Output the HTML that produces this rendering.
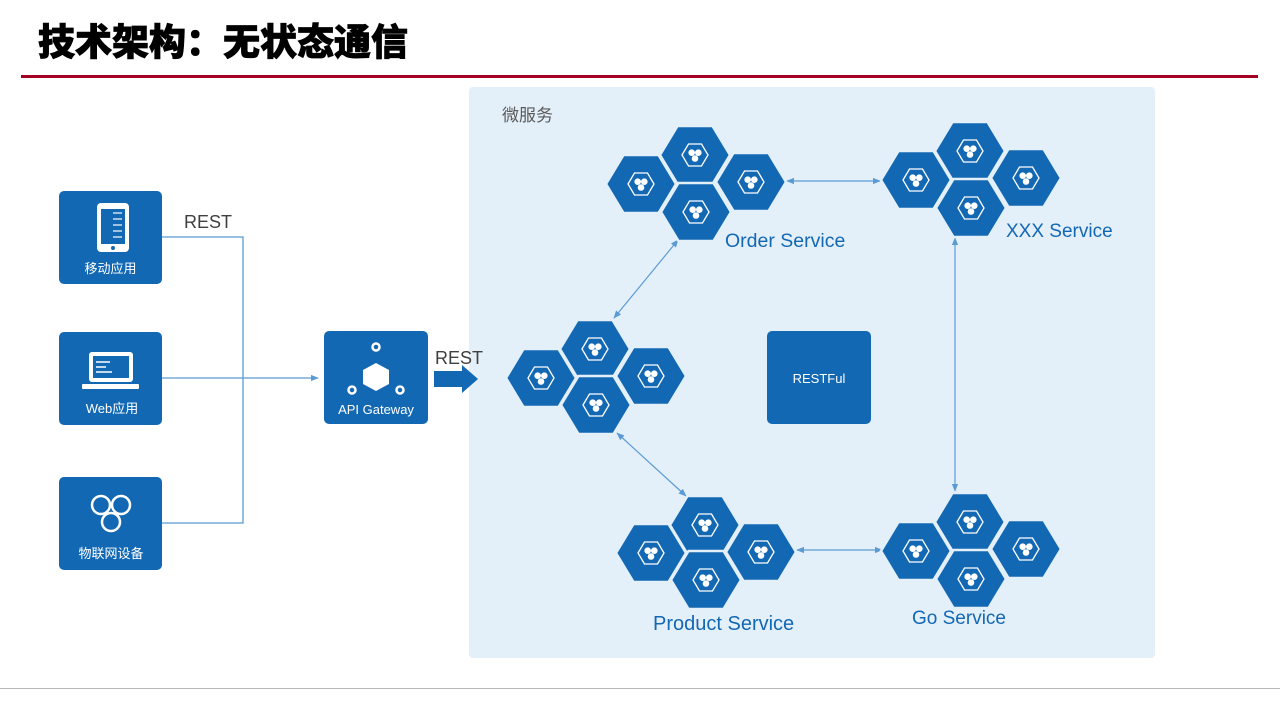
<!DOCTYPE html>
<html><head><meta charset="utf-8"><style>
html,body{margin:0;padding:0;background:#fff;width:1280px;height:720px;overflow:hidden}
text{font-family:"Liberation Sans","Noto Sans CJK SC",sans-serif}
</style></head><body>
<svg width="1280" height="720" viewBox="0 0 1280 720" xmlns="http://www.w3.org/2000/svg">
<defs>
<g id="hx">
<polygon points="-35,0 -17.5,-29 17.5,-29 35,0 17.5,29 -17.5,29" fill="#1368b4" stroke="#e4f0f9" stroke-width="2.5"/>
<polygon points="-13,0 -6.5,-11 6.5,-11 13,0 6.5,11 -6.5,11" fill="none" stroke="#fff" stroke-width="1.3"/>
<circle cx="-3.3" cy="-2.3" r="3.3" fill="#fff"/><circle cx="3.3" cy="-2.3" r="3.3" fill="#fff"/><circle cx="0" cy="3.5" r="3.3" fill="#fff"/>
</g>
<marker id="ar" viewBox="0 0 10 10" refX="9" refY="5" markerWidth="8" markerHeight="8" orient="auto-start-reverse" markerUnits="userSpaceOnUse"><path d="M0,1 L10,5 L0,9 z" fill="#5b9bd5"/></marker>
</defs>
<text x="38" y="55" font-size="37" font-weight="900" fill="#000" stroke="#000" stroke-width="0.8">技术架构：无状态通信</text>
<rect x="21" y="75" width="1237" height="3" fill="#a50021"/>
<rect x="0" y="688" width="1280" height="1" fill="#b8b8b8"/>
<rect x="469" y="87" width="686" height="571" rx="4" fill="#e4f0f9"/>
<text x="502" y="121" font-size="17" fill="#595959">微服务</text>

<rect x="59" y="191" width="103" height="93" rx="5" fill="#1368b4"/>
<rect x="97" y="203" width="32" height="49" rx="4" fill="#fff"/><rect x="101" y="209" width="24" height="35" fill="#1368b4"/><circle cx="113" cy="248" r="2" fill="#1368b4"/>
<g stroke="#fff" stroke-width="1.2"><line x1="113" y1="213" x2="122" y2="213"/><line x1="113" y1="219" x2="122" y2="219"/><line x1="113" y1="225" x2="122" y2="225"/><line x1="113" y1="231" x2="122" y2="231"/><line x1="113" y1="237" x2="122" y2="237"/></g>
<text x="110.5" y="273" font-size="13" fill="#fff" text-anchor="middle">移动应用</text>
<rect x="59" y="332" width="103" height="93" rx="5" fill="#1368b4"/>
<rect x="89" y="352" width="44" height="30" rx="3" fill="#fff"/><rect x="93" y="356" width="36" height="22" fill="#1368b4"/><rect x="82" y="384" width="57" height="5" rx="1" fill="#fff"/>
<g stroke="#fff" stroke-width="1.5"><line x1="96" y1="362" x2="110" y2="362"/><line x1="96" y1="367" x2="106" y2="367"/><line x1="96" y1="372" x2="112" y2="372"/></g>
<text x="112" y="413" font-size="13" fill="#fff" text-anchor="middle">Web应用</text>
<rect x="59" y="477" width="103" height="93" rx="5" fill="#1368b4"/>
<g fill="none" stroke="#fff" stroke-width="2.5"><circle cx="101" cy="505" r="9"/><circle cx="121" cy="505" r="9"/><circle cx="111" cy="522" r="9"/></g>
<text x="111" y="558" font-size="13" fill="#fff" text-anchor="middle">物联网设备</text>

<g stroke="#5b9bd5" stroke-width="1.3" fill="none">
<polyline points="162,237 243,237 243,523 162,523"/>
<line x1="162" y1="378" x2="318" y2="378" marker-end="url(#ar)"/>
</g>
<text x="184" y="228" font-size="18" fill="#404040">REST</text>

<rect x="324" y="331" width="104" height="93" rx="5" fill="#1368b4"/>
<g fill="none" stroke="#fff" stroke-width="2.5"><circle cx="376" cy="347" r="3.5"/><circle cx="352" cy="390" r="3.5"/><circle cx="400" cy="390" r="3.5"/></g>
<polygon points="376,363 389,370 389,384 376,391 363,384 363,370" fill="#fff"/>
<text x="376" y="414" font-size="13" fill="#fff" text-anchor="middle">API Gateway</text>
<text x="435" y="364" font-size="18" fill="#404040">REST</text>
<polygon points="434,371 462,371 462,365 478,379 462,393 462,387 434,387" fill="#1368b4"/>

<rect x="767" y="331" width="104" height="93" rx="5" fill="#1368b4"/>
<text x="819" y="383" font-size="13" fill="#fff" text-anchor="middle">RESTFul</text>

<g stroke="#5b9bd5" stroke-width="1.2" fill="none">
<line x1="787" y1="181" x2="880" y2="181" marker-start="url(#ar)" marker-end="url(#ar)"/>
<line x1="955" y1="238" x2="955" y2="491" marker-start="url(#ar)" marker-end="url(#ar)"/>
<line x1="797" y1="550" x2="882" y2="550" marker-start="url(#ar)" marker-end="url(#ar)"/>
<line x1="614" y1="318" x2="678" y2="240" marker-start="url(#ar)" marker-end="url(#ar)"/>
<line x1="617" y1="433" x2="686" y2="496" marker-start="url(#ar)" marker-end="url(#ar)"/>
</g>

<use href="#hx" x="641" y="184"/><use href="#hx" x="695" y="155"/><use href="#hx" x="751" y="182"/><use href="#hx" x="696" y="212"/>
<use href="#hx" x="916" y="180"/><use href="#hx" x="970" y="151"/><use href="#hx" x="1026" y="178"/><use href="#hx" x="971" y="208"/>
<use href="#hx" x="541" y="378"/><use href="#hx" x="595" y="349"/><use href="#hx" x="651" y="376"/><use href="#hx" x="596" y="405"/>
<use href="#hx" x="651" y="553"/><use href="#hx" x="705" y="525"/><use href="#hx" x="761" y="552"/><use href="#hx" x="706" y="580"/>
<use href="#hx" x="916" y="551"/><use href="#hx" x="970" y="522"/><use href="#hx" x="1026" y="549"/><use href="#hx" x="971" y="579"/>

<text x="725" y="247" font-size="19.5" fill="#1368b4">Order Service</text>
<text x="1006" y="237" font-size="19" fill="#1368b4">XXX Service</text>
<text x="653" y="630" font-size="20" fill="#1368b4">Product Service</text>
<text x="912" y="624" font-size="19" fill="#1368b4">Go Service</text>
</svg>
</body></html>
